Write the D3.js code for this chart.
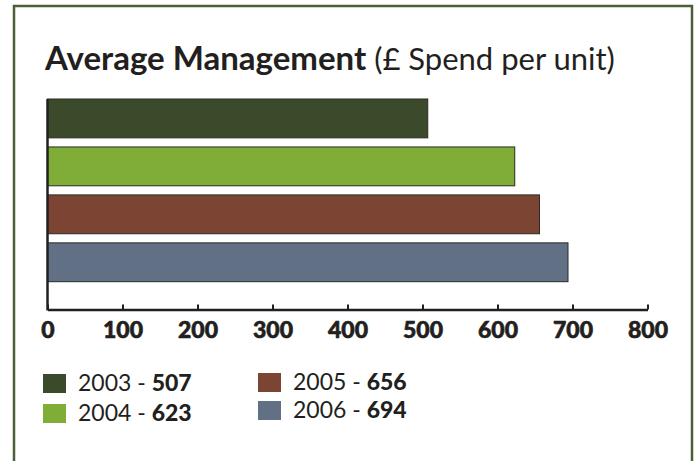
<!DOCTYPE html>
<html lang="en">
<head>
    <meta charset="UTF-8">
    <title>Average Management</title>
    <script src="https://d3js.org/d3.v7.min.js"></script>
    <style>
        body { margin: 0; background: #fff; }
        svg { display: block; }
        text { font-family: Lato, "Open Sans", sans-serif; fill: #231f20; }
    </style>
</head>
<body>
    <div class="chart"></div>
    <script>
        // data
        var years = ['2003', '2004', '2005', '2006'];
        var spend = [507, 623, 656, 694];
        var colours = ['#3a4a2a', '#80ad38', '#7c4533', '#627085'];
        var tickValues = [0, 100, 200, 300, 400, 500, 600, 700, 800];

        var width = 697;
        var height = 461;

        var svg = d3.select('.chart')
            .append('svg')
            .attr('width', width)
            .attr('height', height);

        // frame (open at the bottom)
        svg.append('path')
            .attr('d', 'M14,' + height + ' V6 H692 V' + height)
            .attr('fill', 'none')
            .attr('stroke', '#4b5e38')
            .attr('stroke-width', 2.5);

        // title
        var title = svg.append('text')
            .attr('x', 45)
            .attr('y', 70);
        title.append('tspan').attr('font-weight', 'bold').style('font-size', '33px').text('Average Management');
        title.append('tspan').style('font-size', '31px').text(' (£ Spend per unit)');

        var xscale = d3.scaleLinear()
            .domain([0, 800])
            .range([47.5, 647.5]);

        var yscale = d3.scaleBand()
            .domain(years)
            .range([99, 281.7])
            .paddingInner(0.19)
            .paddingOuter(0);

        var baseY = 309.5;

        // bars
        svg.append('g')
            .selectAll('rect')
            .data(years)
            .enter()
            .append('rect')
            .attr('x', xscale(0))
            .attr('y', function (d) { return yscale(d); })
            .attr('width', function (d, i) { return xscale(spend[i]) - xscale(0); })
            .attr('height', yscale.bandwidth())
            .attr('fill', function (d, i) { return colours[i]; })
            .attr('stroke', '#2a2a26')
            .attr('stroke-width', 1);

        // x axis
        var xaxis = d3.axisBottom(xscale)
            .tickValues(tickValues)
            .tickSizeInner(-5)
            .tickSizeOuter(0)
            .tickFormat(d3.format('d'));

        var gx = svg.append('g')
            .attr('transform', 'translate(0,' + baseY + ')')
            .call(xaxis);
        gx.select('.domain').attr('stroke', '#231f20').attr('stroke-width', 2.5);
        gx.selectAll('.tick line').attr('stroke', '#231f20').attr('stroke-width', 2);
        gx.selectAll('.tick text')
            .attr('y', 28)
            .attr('dy', null)
            .attr('fill', '#231f20')
            .attr('stroke', '#231f20')
            .attr('stroke-width', 0.6)
            .style('font-size', '23px')
            .style('font-weight', 900)
            .style('font-family', 'Lato, sans-serif');

        // y axis line
        svg.append('line')
            .attr('x1', xscale(0)).attr('x2', xscale(0))
            .attr('y1', yscale.range()[0]).attr('y2', baseY + 1)
            .attr('stroke', '#231f20')
            .attr('stroke-width', 2.5);

        // legend, two columns
        var legendPos = [[43, 374], [43, 404], [258, 373], [258, 401]];
        var legend = svg.append('g')
            .selectAll('g')
            .data(years)
            .enter()
            .append('g')
            .attr('transform', function (d, i) { return 'translate(' + legendPos[i][0] + ',' + legendPos[i][1] + ')'; });

        legend.append('rect')
            .attr('width', 23)
            .attr('height', 19)
            .attr('fill', function (d, i) { return colours[i]; });

        var ltext = legend.append('text')
            .attr('x', 35)
            .attr('y', 17)
            .style('font-size', '23px');
        ltext.append('tspan').text(function (d) { return d + ' - '; });
        ltext.append('tspan').attr('font-weight', 900).text(function (d, i) { return spend[i]; });
    </script>
</body>
</html>
